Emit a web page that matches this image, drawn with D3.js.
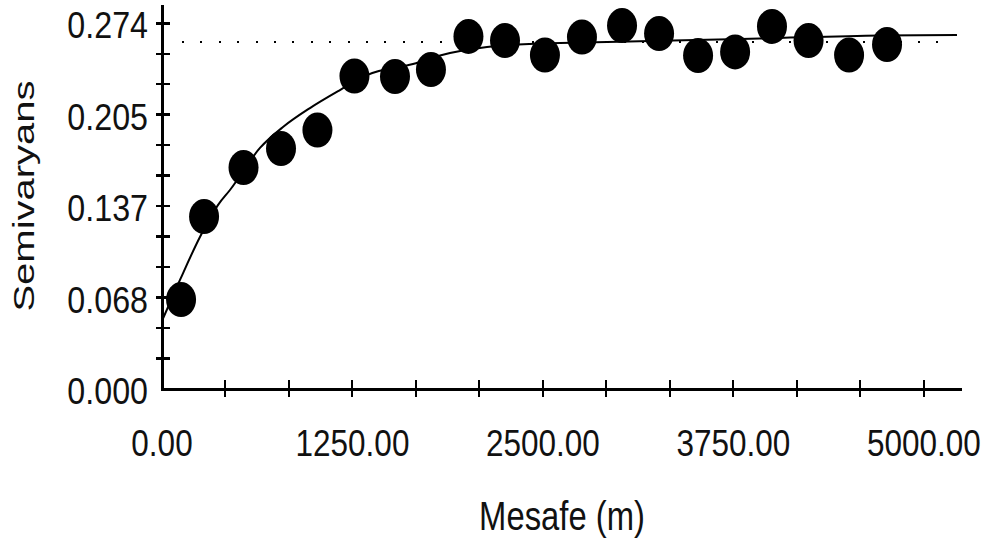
<!DOCTYPE html>
<html>
<head>
<meta charset="utf-8">
<script src="https://cdn.jsdelivr.net/npm/d3@7"></script>
<style>
  body { margin: 0; background: #fff; }
  svg { display: block; }
  text { font-family: "Liberation Sans", Arial, sans-serif; fill: #111; }
</style>
</head>
<body>
<div id="chart"></div>
<script>
// experimental semivariogram points (lag distance in m, semivariance)
const lagDistance = [125, 276, 535, 781, 1020, 1263, 1529, 1765, 2011, 2251,
  2513, 2756, 3019, 3262, 3518, 3761, 4003, 4243, 4509, 4758];
const semivariance = [0.0670, 0.1292, 0.1659, 0.1801, 0.1940, 0.2345, 0.2341, 0.2393, 0.2641, 0.2611,
  0.2502, 0.2637, 0.2723, 0.2663, 0.2498, 0.2525, 0.2716, 0.2611, 0.2502, 0.2581];

// fitted model line
const modelDistance = [8, 118, 249, 367, 446, 643, 794, 971, 1168, 1345,
  1647, 1890, 2133, 2415, 2612, 3203, 3924, 4712, 5217];
const modelValue = [0.0532, 0.0817, 0.1139, 0.1378, 0.1491, 0.1806, 0.1963, 0.2105, 0.2240, 0.2352,
  0.2435, 0.2517, 0.2562, 0.2585, 0.2592, 0.2607, 0.2626, 0.2648, 0.2652];

// sill (dotted line)
const sill = 0.26;
const sillRange = [131, 5204];

// axes
const xTickValues = [0, 1250, 2500, 3750, 5000];
const xTickLabels = ['0.00', '1250.00', '2500.00', '3750.00', '5000.00'];
const yTickValues = [0, 0.0685, 0.137, 0.2055, 0.274];
const yTickLabels = ['0.000', '0.068', '0.137', '0.205', '0.274'];
const xTitle = 'Mesafe (m)';
const yTitle = 'Semivaryans';

const width = 989, height = 543;
const x = d3.scaleLinear().domain([0, 5250]).range([162, 962]);
const y = d3.scaleLinear().domain([0, 0.2877]).range([389, 5]);

const svg = d3.select('#chart').append('svg')
  .attr('width', width)
  .attr('height', height);

// minor ticks: each major interval split in three
const xMinor = [];
for (let i = 0; i < xTickValues.length - 1; i++) {
  const step = (xTickValues[i + 1] - xTickValues[i]) / 3;
  xMinor.push(xTickValues[i] + step, xTickValues[i] + 2 * step, xTickValues[i + 1]);
}
const yMinor = [];
for (let i = 0; i < yTickValues.length - 1; i++) {
  const step = (yTickValues[i + 1] - yTickValues[i]) / 3;
  yMinor.push(yTickValues[i] + step, yTickValues[i] + 2 * step, yTickValues[i + 1]);
}

// sill line (drawn under the markers)
svg.append('line')
  .attr('x1', x(sillRange[0]))
  .attr('x2', x(sillRange[1]))
  .attr('y1', Math.round(y(sill)))
  .attr('y2', Math.round(y(sill)))
  .attr('stroke', '#000')
  .attr('stroke-width', 2)
  .attr('shape-rendering', 'crispEdges')
  .attr('stroke-dasharray', '2,16.4');

// model curve
const model = modelDistance.map((d, i) => ({ h: d, g: modelValue[i] }));
svg.append('path')
  .datum(model)
  .attr('fill', 'none')
  .attr('stroke', '#000')
  .attr('stroke-width', 2)
  .attr('d', d3.line().curve(d3.curveMonotoneX).x((d) => x(d.h)).y((d) => y(d.g)));

// points
const points = lagDistance.map((d, i) => ({ h: d, g: semivariance[i] }));
svg.selectAll('.pt')
  .data(points)
  .enter()
  .append('ellipse')
  .attr('class', 'pt')
  .attr('cx', (d) => x(d.h))
  .attr('cy', (d) => y(d.g))
  .attr('rx', 15)
  .attr('ry', 17.5)
  .attr('fill', '#000');

// axis lines
svg.append('line')
  .attr('x1', x(0)).attr('x2', x(0))
  .attr('y1', y.range()[1]).attr('y2', y(0) + 1.5)
  .attr('stroke', '#000').attr('stroke-width', 3)
  .attr('shape-rendering', 'crispEdges');
svg.append('line')
  .attr('x1', x(0) - 1.5).attr('x2', x.range()[1])
  .attr('y1', y(0)).attr('y2', y(0))
  .attr('stroke', '#000').attr('stroke-width', 3)
  .attr('shape-rendering', 'crispEdges');

// ticks crossing the axes
svg.selectAll('.xt')
  .data(xMinor)
  .enter()
  .append('line')
  .attr('x1', (d) => x(d)).attr('x2', (d) => x(d))
  .attr('y1', y(0) - 9).attr('y2', y(0) + 8)
  .attr('stroke', '#000').attr('stroke-width', 2)
  .attr('shape-rendering', 'crispEdges');
svg.selectAll('.yt')
  .data(yMinor)
  .enter()
  .append('line')
  .attr('x1', x(0) - 6).attr('x2', x(0) + 8)
  .attr('y1', (d) => y(d)).attr('y2', (d) => y(d))
  .attr('stroke', '#000').attr('stroke-width', 2.5)
  .attr('shape-rendering', 'crispEdges');

// tick labels (narrow, tall glyphs as in the picture)
function label(px, py, str, anchor, size, sx) {
  svg.append('text')
    .attr('transform', `translate(${px},${py}) scale(${sx},1)`)
    .attr('text-anchor', anchor)
    .style('font-size', size + 'px')
    .text(str);
}
xTickValues.forEach((v, i) => label(x(v), 456, xTickLabels[i], 'middle', 37.5, 0.84));
yTickValues.forEach((v, i) => label(148, y(v) + 15, yTickLabels[i], 'end', 37.5, 0.86));

// axis titles
label(562, 530, xTitle, 'middle', 40, 0.82);
svg.append('text')
  .attr('transform', 'translate(34,196) rotate(-90) scale(1,0.72)')
  .attr('text-anchor', 'middle')
  .style('font-size', '40px')
  .text(yTitle);
</script>
</body>
</html>
